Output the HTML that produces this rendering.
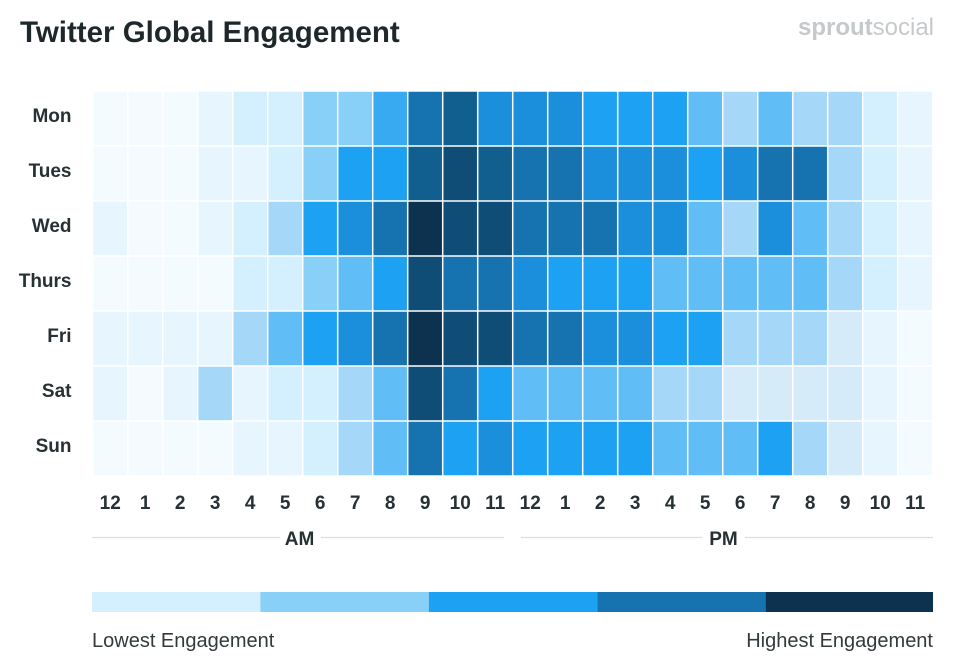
<!DOCTYPE html>
<html>
<head>
<meta charset="utf-8">
<style>
html,body{margin:0;padding:0;background:#fff;}
body{width:965px;height:667px;overflow:hidden;}
svg{display:block;}
.c0{fill:#f3fbff}.c1{fill:#e7f6fe}.c2{fill:#d4effe}.cb{fill:#d5ebfa}.c3{fill:#a5d8f8}.c4{fill:#88d0f7}.c5{fill:#61bdf6}.c6{fill:#37aaf2}.c7{fill:#1da1f2}.c8{fill:#1b8fdb}.c9{fill:#1673b0}.c10{fill:#115f8e}.c11{fill:#0f4d76}.c12{fill:#0d3250}
rect.k{width:33.5px;height:53.5px}
text{font-family:"Liberation Sans",Arial,sans-serif;}
.day{font-size:19px;font-weight:bold;fill:#273133;text-anchor:end;}
.hr{font-size:19px;font-weight:bold;fill:#273133;text-anchor:middle;}
</style>
</head>
<body>
<svg width="965" height="667" viewBox="0 0 965 667" xmlns="http://www.w3.org/2000/svg">
<rect width="965" height="667" fill="#fff"/>
<text x="20" y="42" font-size="29.5" font-weight="bold" fill="#1e2729">Twitter Global Engagement</text>
<text x="934" y="35" font-size="24" fill="#c6c9cb" text-anchor="end"><tspan font-weight="bold">sprout</tspan><tspan>social</tspan></text>

<g transform="translate(92.7,91)">
<!-- Mon -->
<g transform="translate(0,0.75)">
<rect class="k c0" x="0.75" width="33.5" height="53.5"/><rect class="k c0" x="35.75" width="33.5" height="53.5"/><rect class="k c0" x="70.75" width="33.5" height="53.5"/><rect class="k c1" x="105.75" width="33.5" height="53.5"/><rect class="k c2" x="140.75" width="33.5" height="53.5"/><rect class="k c2" x="175.75" width="33.5" height="53.5"/><rect class="k c4" x="210.75" width="33.5" height="53.5"/><rect class="k c4" x="245.75" width="33.5" height="53.5"/><rect class="k c6" x="280.75" width="33.5" height="53.5"/><rect class="k c9" x="315.75" width="33.5" height="53.5"/><rect class="k c10" x="350.75" width="33.5" height="53.5"/><rect class="k c8" x="385.75" width="33.5" height="53.5"/><rect class="k c8" x="420.75" width="33.5" height="53.5"/><rect class="k c8" x="455.75" width="33.5" height="53.5"/><rect class="k c7" x="490.75" width="33.5" height="53.5"/><rect class="k c7" x="525.75" width="33.5" height="53.5"/><rect class="k c7" x="560.75" width="33.5" height="53.5"/><rect class="k c5" x="595.75" width="33.5" height="53.5"/><rect class="k c3" x="630.75" width="33.5" height="53.5"/><rect class="k c5" x="665.75" width="33.5" height="53.5"/><rect class="k c3" x="700.75" width="33.5" height="53.5"/><rect class="k c3" x="735.75" width="33.5" height="53.5"/><rect class="k c2" x="770.75" width="33.5" height="53.5"/><rect class="k c1" x="805.75" width="33.5" height="53.5"/>
</g>
<!-- Tues -->
<g transform="translate(0,55.75)">
<rect class="k c0" x="0.75" width="33.5" height="53.5"/><rect class="k c0" x="35.75" width="33.5" height="53.5"/><rect class="k c0" x="70.75" width="33.5" height="53.5"/><rect class="k c1" x="105.75" width="33.5" height="53.5"/><rect class="k c1" x="140.75" width="33.5" height="53.5"/><rect class="k c2" x="175.75" width="33.5" height="53.5"/><rect class="k c4" x="210.75" width="33.5" height="53.5"/><rect class="k c7" x="245.75" width="33.5" height="53.5"/><rect class="k c7" x="280.75" width="33.5" height="53.5"/><rect class="k c10" x="315.75" width="33.5" height="53.5"/><rect class="k c11" x="350.75" width="33.5" height="53.5"/><rect class="k c10" x="385.75" width="33.5" height="53.5"/><rect class="k c9" x="420.75" width="33.5" height="53.5"/><rect class="k c9" x="455.75" width="33.5" height="53.5"/><rect class="k c8" x="490.75" width="33.5" height="53.5"/><rect class="k c8" x="525.75" width="33.5" height="53.5"/><rect class="k c8" x="560.75" width="33.5" height="53.5"/><rect class="k c7" x="595.75" width="33.5" height="53.5"/><rect class="k c8" x="630.75" width="33.5" height="53.5"/><rect class="k c9" x="665.75" width="33.5" height="53.5"/><rect class="k c9" x="700.75" width="33.5" height="53.5"/><rect class="k c3" x="735.75" width="33.5" height="53.5"/><rect class="k c2" x="770.75" width="33.5" height="53.5"/><rect class="k c1" x="805.75" width="33.5" height="53.5"/>
</g>
<!-- Wed -->
<g transform="translate(0,110.75)">
<rect class="k c1" x="0.75" width="33.5" height="53.5"/><rect class="k c0" x="35.75" width="33.5" height="53.5"/><rect class="k c0" x="70.75" width="33.5" height="53.5"/><rect class="k c1" x="105.75" width="33.5" height="53.5"/><rect class="k c2" x="140.75" width="33.5" height="53.5"/><rect class="k c3" x="175.75" width="33.5" height="53.5"/><rect class="k c7" x="210.75" width="33.5" height="53.5"/><rect class="k c8" x="245.75" width="33.5" height="53.5"/><rect class="k c9" x="280.75" width="33.5" height="53.5"/><rect class="k c12" x="315.75" width="33.5" height="53.5"/><rect class="k c11" x="350.75" width="33.5" height="53.5"/><rect class="k c11" x="385.75" width="33.5" height="53.5"/><rect class="k c9" x="420.75" width="33.5" height="53.5"/><rect class="k c9" x="455.75" width="33.5" height="53.5"/><rect class="k c9" x="490.75" width="33.5" height="53.5"/><rect class="k c8" x="525.75" width="33.5" height="53.5"/><rect class="k c8" x="560.75" width="33.5" height="53.5"/><rect class="k c5" x="595.75" width="33.5" height="53.5"/><rect class="k c3" x="630.75" width="33.5" height="53.5"/><rect class="k c8" x="665.75" width="33.5" height="53.5"/><rect class="k c5" x="700.75" width="33.5" height="53.5"/><rect class="k c3" x="735.75" width="33.5" height="53.5"/><rect class="k c2" x="770.75" width="33.5" height="53.5"/><rect class="k c1" x="805.75" width="33.5" height="53.5"/>
</g>
<!-- Thurs -->
<g transform="translate(0,165.75)">
<rect class="k c0" x="0.75" width="33.5" height="53.5"/><rect class="k c0" x="35.75" width="33.5" height="53.5"/><rect class="k c0" x="70.75" width="33.5" height="53.5"/><rect class="k c0" x="105.75" width="33.5" height="53.5"/><rect class="k c2" x="140.75" width="33.5" height="53.5"/><rect class="k c2" x="175.75" width="33.5" height="53.5"/><rect class="k c4" x="210.75" width="33.5" height="53.5"/><rect class="k c5" x="245.75" width="33.5" height="53.5"/><rect class="k c7" x="280.75" width="33.5" height="53.5"/><rect class="k c11" x="315.75" width="33.5" height="53.5"/><rect class="k c9" x="350.75" width="33.5" height="53.5"/><rect class="k c9" x="385.75" width="33.5" height="53.5"/><rect class="k c8" x="420.75" width="33.5" height="53.5"/><rect class="k c7" x="455.75" width="33.5" height="53.5"/><rect class="k c7" x="490.75" width="33.5" height="53.5"/><rect class="k c7" x="525.75" width="33.5" height="53.5"/><rect class="k c5" x="560.75" width="33.5" height="53.5"/><rect class="k c5" x="595.75" width="33.5" height="53.5"/><rect class="k c5" x="630.75" width="33.5" height="53.5"/><rect class="k c5" x="665.75" width="33.5" height="53.5"/><rect class="k c5" x="700.75" width="33.5" height="53.5"/><rect class="k c3" x="735.75" width="33.5" height="53.5"/><rect class="k c2" x="770.75" width="33.5" height="53.5"/><rect class="k c1" x="805.75" width="33.5" height="53.5"/>
</g>
<!-- Fri -->
<g transform="translate(0,220.75)">
<rect class="k c1" x="0.75" width="33.5" height="53.5"/><rect class="k c1" x="35.75" width="33.5" height="53.5"/><rect class="k c1" x="70.75" width="33.5" height="53.5"/><rect class="k c1" x="105.75" width="33.5" height="53.5"/><rect class="k c3" x="140.75" width="33.5" height="53.5"/><rect class="k c5" x="175.75" width="33.5" height="53.5"/><rect class="k c7" x="210.75" width="33.5" height="53.5"/><rect class="k c8" x="245.75" width="33.5" height="53.5"/><rect class="k c9" x="280.75" width="33.5" height="53.5"/><rect class="k c12" x="315.75" width="33.5" height="53.5"/><rect class="k c11" x="350.75" width="33.5" height="53.5"/><rect class="k c11" x="385.75" width="33.5" height="53.5"/><rect class="k c9" x="420.75" width="33.5" height="53.5"/><rect class="k c9" x="455.75" width="33.5" height="53.5"/><rect class="k c8" x="490.75" width="33.5" height="53.5"/><rect class="k c8" x="525.75" width="33.5" height="53.5"/><rect class="k c7" x="560.75" width="33.5" height="53.5"/><rect class="k c7" x="595.75" width="33.5" height="53.5"/><rect class="k c3" x="630.75" width="33.5" height="53.5"/><rect class="k c3" x="665.75" width="33.5" height="53.5"/><rect class="k c3" x="700.75" width="33.5" height="53.5"/><rect class="k cb" x="735.75" width="33.5" height="53.5"/><rect class="k c1" x="770.75" width="33.5" height="53.5"/><rect class="k c0" x="805.75" width="33.5" height="53.5"/>
</g>
<!-- Sat -->
<g transform="translate(0,275.75)">
<rect class="k c1" x="0.75" width="33.5" height="53.5"/><rect class="k c0" x="35.75" width="33.5" height="53.5"/><rect class="k c1" x="70.75" width="33.5" height="53.5"/><rect class="k c3" x="105.75" width="33.5" height="53.5"/><rect class="k c1" x="140.75" width="33.5" height="53.5"/><rect class="k c2" x="175.75" width="33.5" height="53.5"/><rect class="k c2" x="210.75" width="33.5" height="53.5"/><rect class="k c3" x="245.75" width="33.5" height="53.5"/><rect class="k c5" x="280.75" width="33.5" height="53.5"/><rect class="k c11" x="315.75" width="33.5" height="53.5"/><rect class="k c9" x="350.75" width="33.5" height="53.5"/><rect class="k c7" x="385.75" width="33.5" height="53.5"/><rect class="k c5" x="420.75" width="33.5" height="53.5"/><rect class="k c5" x="455.75" width="33.5" height="53.5"/><rect class="k c5" x="490.75" width="33.5" height="53.5"/><rect class="k c5" x="525.75" width="33.5" height="53.5"/><rect class="k c3" x="560.75" width="33.5" height="53.5"/><rect class="k c3" x="595.75" width="33.5" height="53.5"/><rect class="k cb" x="630.75" width="33.5" height="53.5"/><rect class="k cb" x="665.75" width="33.5" height="53.5"/><rect class="k cb" x="700.75" width="33.5" height="53.5"/><rect class="k cb" x="735.75" width="33.5" height="53.5"/><rect class="k c1" x="770.75" width="33.5" height="53.5"/><rect class="k c0" x="805.75" width="33.5" height="53.5"/>
</g>
<!-- Sun -->
<g transform="translate(0,330.75)">
<rect class="k c0" x="0.75" width="33.5" height="53.5"/><rect class="k c0" x="35.75" width="33.5" height="53.5"/><rect class="k c0" x="70.75" width="33.5" height="53.5"/><rect class="k c0" x="105.75" width="33.5" height="53.5"/><rect class="k c1" x="140.75" width="33.5" height="53.5"/><rect class="k c1" x="175.75" width="33.5" height="53.5"/><rect class="k c2" x="210.75" width="33.5" height="53.5"/><rect class="k c3" x="245.75" width="33.5" height="53.5"/><rect class="k c5" x="280.75" width="33.5" height="53.5"/><rect class="k c9" x="315.75" width="33.5" height="53.5"/><rect class="k c7" x="350.75" width="33.5" height="53.5"/><rect class="k c8" x="385.75" width="33.5" height="53.5"/><rect class="k c7" x="420.75" width="33.5" height="53.5"/><rect class="k c7" x="455.75" width="33.5" height="53.5"/><rect class="k c7" x="490.75" width="33.5" height="53.5"/><rect class="k c7" x="525.75" width="33.5" height="53.5"/><rect class="k c5" x="560.75" width="33.5" height="53.5"/><rect class="k c5" x="595.75" width="33.5" height="53.5"/><rect class="k c5" x="630.75" width="33.5" height="53.5"/><rect class="k c7" x="665.75" width="33.5" height="53.5"/><rect class="k c3" x="700.75" width="33.5" height="53.5"/><rect class="k cb" x="735.75" width="33.5" height="53.5"/><rect class="k c1" x="770.75" width="33.5" height="53.5"/><rect class="k c0" x="805.75" width="33.5" height="53.5"/>
</g>
</g>

<!-- day labels -->
<text class="day" x="71.5" y="122">Mon</text>
<text class="day" x="71.5" y="177">Tues</text>
<text class="day" x="71.5" y="232">Wed</text>
<text class="day" x="71.5" y="287">Thurs</text>
<text class="day" x="71.5" y="342">Fri</text>
<text class="day" x="71.5" y="397">Sat</text>
<text class="day" x="71.5" y="452">Sun</text>

<!-- hour labels -->
<g class="hrs">
<text class="hr" x="110.2" y="509">12</text>
<text class="hr" x="145.2" y="509">1</text>
<text class="hr" x="180.2" y="509">2</text>
<text class="hr" x="215.2" y="509">3</text>
<text class="hr" x="250.2" y="509">4</text>
<text class="hr" x="285.2" y="509">5</text>
<text class="hr" x="320.2" y="509">6</text>
<text class="hr" x="355.2" y="509">7</text>
<text class="hr" x="390.2" y="509">8</text>
<text class="hr" x="425.2" y="509">9</text>
<text class="hr" x="460.2" y="509">10</text>
<text class="hr" x="495.2" y="509">11</text>
<text class="hr" x="530.2" y="509">12</text>
<text class="hr" x="565.2" y="509">1</text>
<text class="hr" x="600.2" y="509">2</text>
<text class="hr" x="635.2" y="509">3</text>
<text class="hr" x="670.2" y="509">4</text>
<text class="hr" x="705.2" y="509">5</text>
<text class="hr" x="740.2" y="509">6</text>
<text class="hr" x="775.2" y="509">7</text>
<text class="hr" x="810.2" y="509">8</text>
<text class="hr" x="845.2" y="509">9</text>
<text class="hr" x="880.2" y="509">10</text>
<text class="hr" x="915.2" y="509">11</text>
</g>

<!-- AM / PM -->
<line x1="92" y1="537.5" x2="280" y2="537.5" stroke="#dedede" stroke-width="1.2"/>
<line x1="321" y1="537.5" x2="504" y2="537.5" stroke="#dedede" stroke-width="1.2"/>
<text class="hr" x="299.5" y="545">AM</text>
<line x1="521" y1="537.5" x2="702" y2="537.5" stroke="#dedede" stroke-width="1.2"/>
<line x1="745" y1="537.5" x2="933" y2="537.5" stroke="#dedede" stroke-width="1.2"/>
<text class="hr" x="723.5" y="545">PM</text>

<!-- legend -->
<rect x="92" y="592" width="168.4" height="20" fill="#d4effe"/>
<rect x="260.4" y="592" width="168.4" height="20" fill="#88d0f7"/>
<rect x="428.8" y="592" width="168.4" height="20" fill="#1da1f2"/>
<rect x="597.2" y="592" width="168.4" height="20" fill="#1673b0"/>
<rect x="765.6" y="592" width="167.4" height="20" fill="#0d3250"/>
<text x="92" y="647" font-size="20" fill="#333a3c">Lowest Engagement</text>
<text x="933" y="647" font-size="20" fill="#333a3c" text-anchor="end">Highest Engagement</text>
</svg>
</body>
</html>
